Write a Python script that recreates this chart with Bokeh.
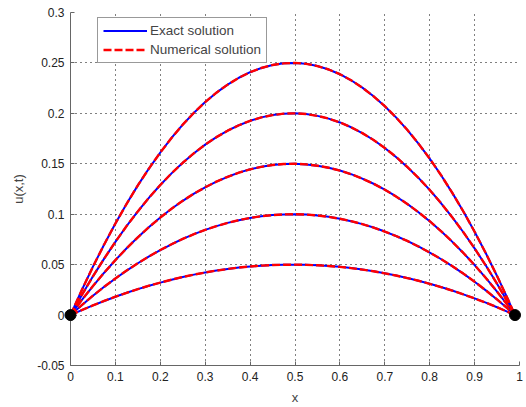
from bokeh.plotting import figure
from bokeh.models import FixedTicker, Legend, LegendItem
from bokeh.embed import file_html
from bokeh.resources import INLINE

# Spatial nodes
x = [0.0, 0.025, 0.05, 0.075, 0.1, 0.125, 0.15, 0.175, 0.2, 0.225, 0.25, 0.275, 0.3,
     0.325, 0.35, 0.375, 0.4, 0.425, 0.45, 0.475, 0.5, 0.525, 0.55, 0.575, 0.6, 0.625,
     0.65, 0.675, 0.7, 0.725, 0.75, 0.775, 0.8, 0.825, 0.85, 0.875, 0.9, 0.925, 0.95,
     0.975, 0.99]

# Profiles u(x,t) at five time levels
u_t1 = [0, .0246, .0480, .0700, .0908, .1103, .1286, .1455, .1612, .1756, .1888, .2006,
        .2112, .2205, .2285, .2353, .2408, .2450, .2479, .2496, .2500, .2491, .2469, .2435,
        .2388, .2328, .2255, .2169, .2071, .1960, .1837, .1700, .1551, .1389, .1214, .1027,
        .0826, .0613, .0388, .0149, 0]
u_t2 = [0, .0197, .0384, .0560, .0726, .0883, .1028, .1164, .1290, .1405, .1510, .1605,
        .1690, .1764, .1828, .1882, .1926, .1960, .1983, .1997, .2000, .1993, .1975, .1948,
        .1910, .1862, .1804, .1736, .1657, .1568, .1469, .1360, .1241, .1111, .0971, .0821,
        .0661, .0491, .0310, .0119, 0]
u_t3 = [0, .0148, .0288, .0420, .0545, .0662, .0771, .0873, .0967, .1054, .1133, .1204,
        .1267, .1323, .1371, .1412, .1445, .1470, .1488, .1498, .1500, .1494, .1481, .1461,
        .1433, .1397, .1353, .1302, .1243, .1176, .1102, .1020, .0931, .0833, .0728, .0616,
        .0496, .0368, .0233, .0090, 0]
u_t4 = [0, .0098, .0192, .0280, .0363, .0441, .0514, .0582, .0645, .0702, .0755, .0802,
        .0845, .0882, .0914, .0941, .0963, .0980, .0992, .0998, .1000, .0996, .0988, .0974,
        .0955, .0931, .0902, .0868, .0828, .0784, .0735, .0680, .0620, .0556, .0486, .0411,
        .0331, .0245, .0155, .0060, 0]
u_t5 = [0, .0049, .0096, .0140, .0182, .0221, .0257, .0291, .0322, .0351, .0378, .0401,
        .0422, .0441, .0457, .0471, .0482, .0490, .0496, .0499, .0500, .0498, .0494, .0487,
        .0478, .0466, .0451, .0434, .0414, .0392, .0367, .0340, .0310, .0278, .0243, .0205,
        .0165, .0123, .0078, .0030, 0]

exact_profiles = [u_t1, u_t2, u_t3, u_t4, u_t5]
numerical_profiles = [u_t1, u_t2, u_t3, u_t4, u_t5]

# Boundary points
bx = [0.0, 0.99]
by = [0.0, 0.0]

x_ticks = [0, 0.1, 0.2, 0.3, 0.4, 0.5, 0.6, 0.7, 0.8, 0.9, 1]
x_tick_labels = ["0", "0.1", "0.2", "0.3", "0.4", "0.5", "0.6", "0.7", "0.8", "0.9", "1"]
y_ticks = [-0.05, 0, 0.05, 0.1, 0.15, 0.2, 0.25, 0.3]
y_tick_labels = ["-0.05", "0", "0.05", "0.1", "0.15", "0.2", "0.25", "0.3"]

FONT = "Liberation Sans"

p = figure(frame_width=449, frame_height=353,
           x_range=(0, 1), y_range=(-0.05, 0.3),
           output_backend="svg", toolbar_location=None,
           min_border_left=70, min_border_right=7,
           min_border_top=12, min_border_bottom=42)
p.outline_line_color = None
p.background_fill_color = "white"
p.border_fill_color = "white"

exact_renderers = []
num_renderers = []
for ue in exact_profiles:
    exact_renderers.append(p.line(x, ue, line_color="#0000ff", line_width=2))
for un in numerical_profiles:
    num_renderers.append(p.line(x, un, line_color="#ff0000", line_width=2.4,
                                line_dash="8 3"))

# boundary markers drawn above the frame clip so they overlap the axis
p.scatter(bx, by, size=11, color="black", level="overlay")

for ax, ticks, labels in ((p.xaxis[0], x_ticks, x_tick_labels),
                          (p.yaxis[0], y_ticks, y_tick_labels)):
    ax.ticker = FixedTicker(ticks=ticks)
    ax.major_label_overrides = {t: l for t, l in zip(ticks, labels)}
    ax.minor_tick_line_color = None
    ax.major_tick_in = 4
    ax.major_tick_out = 0
    ax.axis_line_color = "#666666"
    ax.major_tick_line_color = "#666666"
    ax.major_label_text_font = FONT
    ax.major_label_text_font_size = "12px"
    ax.major_label_text_color = "#222222"
    ax.axis_label_text_font = FONT
    ax.axis_label_text_font_size = "13px"
    ax.axis_label_text_font_style = "normal"
    ax.axis_label_text_color = "#444444"
    ax.major_label_standoff = 6

p.xaxis.axis_label = "x"
p.yaxis.axis_label = "u(x,t)"
p.xaxis.axis_label_standoff = 6
p.yaxis.axis_label_standoff = 8

for g in (p.xgrid[0], p.ygrid[0]):
    g.grid_line_color = "black"
    g.grid_line_dash = "1 4"
    g.grid_line_width = 1
    g.grid_line_alpha = 1.0

legend = Legend(items=[LegendItem(label="Exact solution", renderers=[exact_renderers[0]]),
                       LegendItem(label="Numerical solution", renderers=[num_renderers[0]])],
                location=(27, 302),
                padding=5, spacing=4, glyph_width=44, glyph_height=15,
                label_height=15, label_standoff=3,
                label_text_font=FONT, label_text_font_size="13.5px",
                border_line_color="#333333", border_line_width=1,
                background_fill_color="white", background_fill_alpha=1,
                margin=0)
p.add_layout(legend)

open("out.html", "w").write(file_html(p, INLINE))
